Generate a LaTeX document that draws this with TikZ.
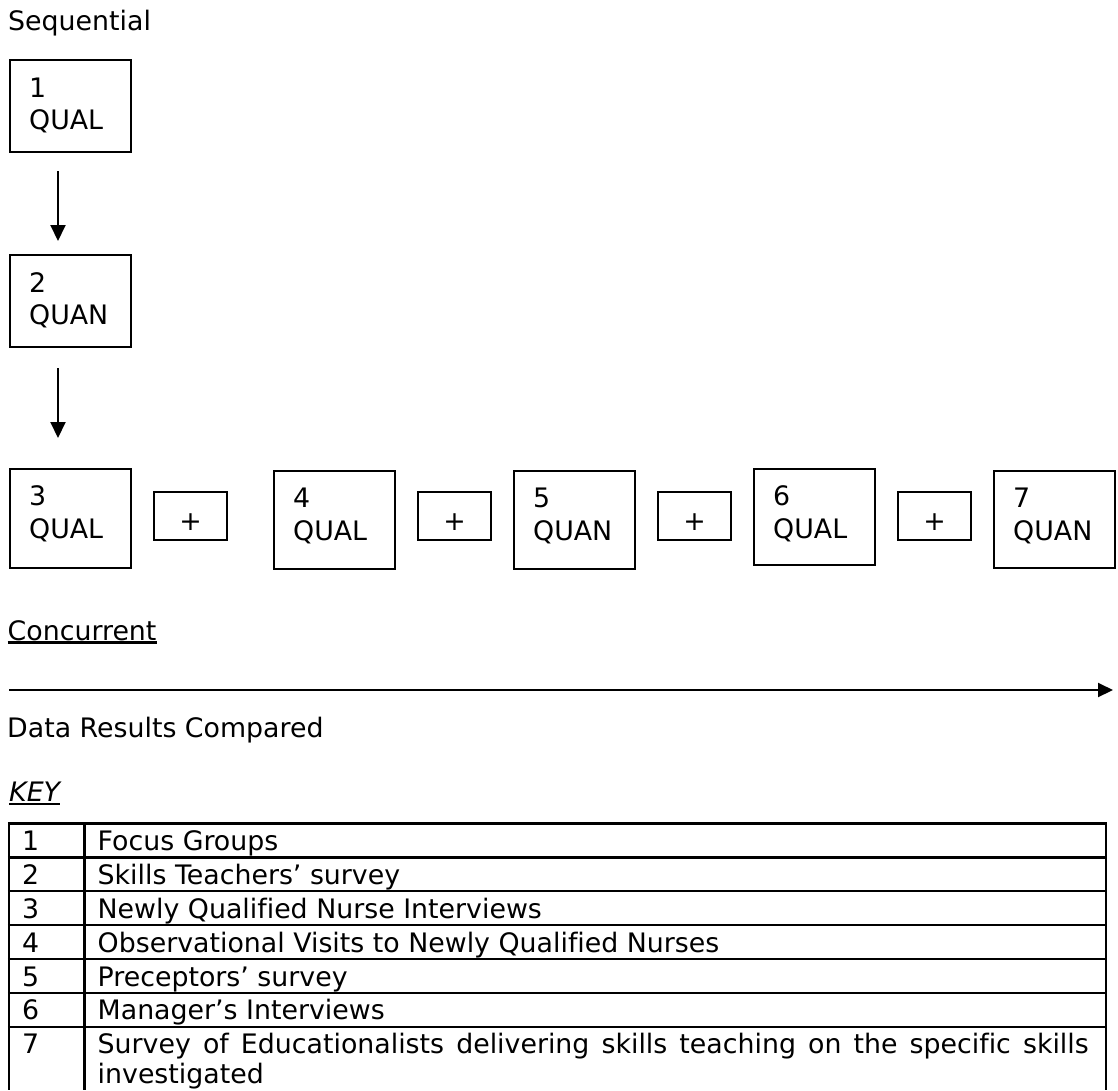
\documentclass[tikz,border=0pt]{standalone}
\usepackage{fontspec}
\setmainfont[Ligatures={NoCommon}]{DejaVu Sans}
\usetikzlibrary{arrows.meta,calc}

\begin{document}
\begin{tikzpicture}[x=1pt,y=-1pt,
  every node/.style={font=\fontsize{26.8}{32}\selectfont, inner sep=0pt},
  txt/.style={anchor=base west},
  box/.style={draw, line width=2pt, anchor=north west, minimum width=121pt},
  plusbox/.style={draw, line width=2pt, anchor=north west, minimum width=73pt,
    minimum height=48pt, text height=28.6pt, text depth=0pt},
  arr/.style={line width=2pt, -{Triangle[length=16pt,width=15pt]}},
  keyrule/.style={line width=2.2pt},
  uline/.style={line width=2.6pt}]

\useasboundingbox (0,0) rectangle (1118,1090);

% ---- sequential part ----
\node[txt] (seq) at (8,30) {Sequential};

\node[box, minimum height=92pt] (b1) at (9,59) {};
\node[box, minimum height=92pt] (b2) at (9,254) {};
\node[txt] (b1n) at ($(b1.north west)+(20,38)$) {1};
\node[txt] (b1t) at ($(b1.north west)+(20,70)$) {QUAL};
\node[txt] (b2n) at ($(b2.north west)+(20,38)$) {2};
\node[txt] (b2t) at ($(b2.north west)+(20,70)$) {QUAN};

% ---- concurrent row ----
\node[box, minimum height=99pt] (b3) at (9,468) {};
\node[box, minimum height=98pt] (b4) at (273,470) {};
\node[box, minimum height=98pt] (b5) at (513,470) {};
\node[box, minimum height=96pt] (b6) at (753,468) {};
\node[box, minimum height=97pt] (b7) at (993,470) {};

\foreach \b/\n/\t in {b3/3/QUAL, b4/4/QUAL, b5/5/QUAN, b6/6/QUAL, b7/7/QUAN}{
  \node[txt] (\b n) at ($(\b.north west)+(20,37.5)$) {\n};
  \node[txt] (\b t) at ($(\b.north west)+(20,70)$) {\t};
}

\node[plusbox] (p1) at (153,491) {+};
\node[plusbox] (p2) at (417,491) {+};
\node[plusbox] (p3) at (657,491) {+};
\node[plusbox] (p4) at (897,491) {+};

% ---- connectors ----
\draw[arr] ($(b1.south west)+(49,18)$) -- ($(b2.north west)+(49,-13)$);
\draw[arr] ($(b2.south west)+(49,20)$) -- ($(b3.north west)+(49,-30)$);

\node[txt] (conc) at (7.5,640) {Concurrent};
\draw[uline] ([yshift=-2.3pt]conc.base west) -- ([yshift=-2.3pt]conc.base east);

\coordinate (ls) at (9,690);
\coordinate (le) at (1113,690);
\draw[line width=2pt, -{Triangle[length=15pt,width=14pt]}] (ls) -- (le);

\node[txt] (drc) at (7,737) {Data Results Compared};

% ---- key ----
\node[txt] (key) at (9,801.7) {\itshape KEY};
\draw[uline] ([yshift=-2.3pt]key.base west) -- ([yshift=-2.3pt]key.base east);

% table rules
\foreach \y in {823.5,857.4,891.2,925.1,959.0,992.9,1026.7}{
  \draw[keyrule] (7.9,\y) -- (1107.1,\y);
}
\foreach \x in {9,84.5,1106}{
  \draw[keyrule] (\x,823.5) -- (\x,1090);
}

% table entries
\foreach \i/\yb/\d in {1/850.5/Focus Groups,
                       2/884.4/Skills Teachers’ survey,
                       3/918.2/Newly Qualified Nurse Interviews,
                       4/952.1/Observational Visits to Newly Qualified Nurses,
                       5/986.0/Preceptors’ survey,
                       6/1019.9/Manager’s Interviews}{
  \node[txt] (k\i) at (22,\yb) {\i};
  \node[txt] (d\i) at (97.5,\yb) {\d};
}
\node[txt] (k7) at (22,1053.7) {7};
\node[txt] (d7a) at (97.5,1053.7)
  {\makebox[991pt][s]{Survey of Educationalists delivering skills teaching on the specific skills}};
\node[txt] (d7b) at (97.5,1083) {investigated};

\end{tikzpicture}
\end{document}
